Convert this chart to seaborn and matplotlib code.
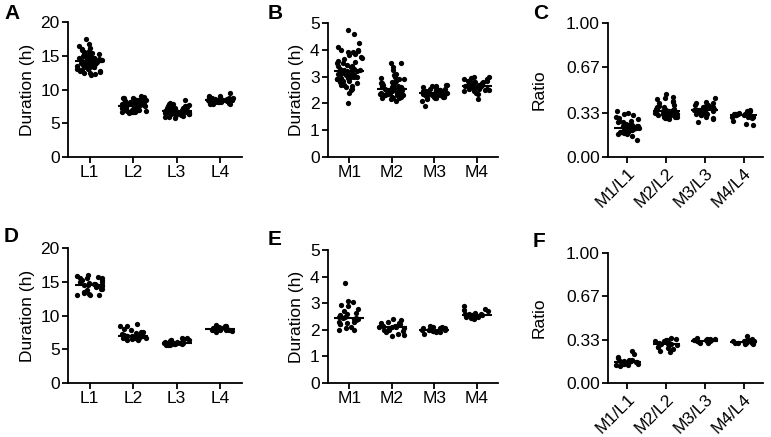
import numpy as np
import pandas as pd
import seaborn as sns
import matplotlib.pyplot as plt

sns.set_style('ticks')
plt.rcParams['font.family'] = ['Liberation Sans', 'DejaVu Sans']
plt.rcParams.update({'text.color': 'k', 'axes.labelcolor': 'k', 'xtick.color': 'k',
                     'ytick.color': 'k', 'axes.edgecolor': 'k'})

# ---- data (hours / ratios) ----
L_LABELS = ['L1', 'L2', 'L3', 'L4']
M_LABELS = ['M1', 'M2', 'M3', 'M4']
R_LABELS = ['M1/L1', 'M2/L2', 'M3/L3', 'M4/L4']

# top row
A_L1 = [12.2, 12.3, 12.4, 12.5, 12.6, 12.7, 12.8, 12.9, 13.0, 13.0, 13.1, 13.2, 13.3, 13.3,
        13.4, 13.5, 13.5, 13.6, 13.7, 13.7, 13.8, 13.9, 13.9, 14.0, 14.0, 14.1, 14.1, 14.2,
        14.2, 14.3, 14.3, 14.4, 14.4, 14.5, 14.5, 14.6, 14.7, 14.7, 14.8, 14.9, 14.9, 15.0,
        15.1, 15.2, 15.2, 15.3, 15.4, 15.5, 15.6, 15.7, 15.9, 16.0, 16.2, 16.5, 16.8, 17.5,
        13.8, 14.0, 14.2, 14.4, 13.6, 14.6]
A_L2 = [6.5, 6.6, 6.6, 6.7, 6.7, 6.8, 6.8, 6.9, 6.9, 7.0, 7.0, 7.1, 7.1, 7.2, 7.2, 7.3, 7.3,
        7.4, 7.4, 7.4, 7.5, 7.5, 7.5, 7.6, 7.6, 7.7, 7.7, 7.8, 7.8, 7.9, 7.9, 8.0, 8.0, 8.1,
        8.1, 8.2, 8.2, 8.3, 8.3, 8.4, 8.5, 8.5, 8.6, 8.6, 8.7, 8.8, 8.9, 9.0,
        6.6, 6.9, 7.2, 7.5, 7.8, 8.1, 8.4, 8.7]
A_L3 = [5.8, 5.9, 6.0, 6.1, 6.2, 6.2, 6.3, 6.3, 6.4, 6.4, 6.5, 6.5, 6.5, 6.6, 6.6, 6.6, 6.7,
        6.7, 6.7, 6.8, 6.8, 6.8, 6.9, 6.9, 6.9, 7.0, 7.0, 7.0, 7.1, 7.1, 7.2, 7.2, 7.3, 7.3,
        7.4, 7.5, 7.5, 7.6, 7.7, 7.8, 7.9, 8.0, 8.4, 6.4, 6.6, 6.8, 7.0, 7.2]
A_L4 = [7.8, 7.9, 7.9, 8.0, 8.0, 8.1, 8.1, 8.2, 8.2, 8.2, 8.3, 8.3, 8.3, 8.3, 8.4, 8.4, 8.4,
        8.4, 8.5, 8.5, 8.5, 8.5, 8.6, 8.6, 8.6, 8.7, 8.7, 8.8, 8.8, 8.9, 9.0, 9.1, 9.5,
        8.2, 8.3, 8.4, 8.5, 8.6, 8.7]

B_M1 = [2.0, 2.4, 2.5, 2.55, 2.6, 2.65, 2.7, 2.7, 2.75, 2.8, 2.8, 2.85, 2.85, 2.9, 2.9, 2.95,
        2.95, 3.0, 3.0, 3.0, 3.05, 3.05, 3.1, 3.1, 3.1, 3.15, 3.15, 3.15, 3.2, 3.2, 3.2, 3.25,
        3.25, 3.3, 3.3, 3.35, 3.4, 3.4, 3.45, 3.5, 3.5, 3.55, 3.6, 3.65, 3.7, 3.75, 3.8, 3.85,
        3.9, 3.9, 3.95, 4.0, 4.0, 4.1, 4.25, 4.6, 4.75]
B_M2 = [2.1, 2.15, 2.2, 2.2, 2.25, 2.25, 2.3, 2.3, 2.3, 2.35, 2.35, 2.35, 2.4, 2.4, 2.4, 2.45,
        2.45, 2.45, 2.5, 2.5, 2.5, 2.5, 2.55, 2.55, 2.55, 2.6, 2.6, 2.6, 2.65, 2.65, 2.7, 2.7,
        2.75, 2.75, 2.8, 2.8, 2.85, 2.9, 2.9, 2.95, 3.0, 3.05, 3.1, 3.25, 3.35, 3.5, 3.5,
        2.2, 2.3, 2.4, 2.5, 2.6]
B_M3 = [1.9, 2.1, 2.15, 2.2, 2.2, 2.2, 2.25, 2.25, 2.25, 2.3, 2.3, 2.3, 2.3, 2.35, 2.35, 2.35,
        2.35, 2.4, 2.4, 2.4, 2.4, 2.45, 2.45, 2.45, 2.5, 2.5, 2.5, 2.55, 2.55, 2.6, 2.6, 2.65,
        2.65, 2.7, 2.7, 2.3, 2.35, 2.4, 2.45, 2.5]
B_M4 = [2.15, 2.35, 2.4, 2.45, 2.45, 2.5, 2.5, 2.55, 2.55, 2.55, 2.6, 2.6, 2.6, 2.6, 2.65,
        2.65, 2.65, 2.65, 2.7, 2.7, 2.7, 2.75, 2.75, 2.75, 2.8, 2.8, 2.85, 2.85, 2.9, 2.9,
        2.95, 3.0, 3.0, 2.6, 2.7, 2.8]

C_R1 = [0.13, 0.16, 0.17, 0.17, 0.18, 0.18, 0.19, 0.19, 0.19, 0.20, 0.20, 0.20, 0.21, 0.21,
        0.21, 0.21, 0.22, 0.22, 0.22, 0.22, 0.23, 0.23, 0.23, 0.24, 0.24, 0.24, 0.25, 0.25,
        0.26, 0.26, 0.27, 0.27, 0.28, 0.29, 0.30, 0.31, 0.32, 0.33, 0.34,
        0.19, 0.20, 0.21, 0.22, 0.23, 0.24]
C_R2 = [0.28, 0.29, 0.29, 0.30, 0.30, 0.31, 0.31, 0.31, 0.32, 0.32, 0.32, 0.33, 0.33, 0.33,
        0.33, 0.34, 0.34, 0.34, 0.35, 0.35, 0.35, 0.36, 0.36, 0.37, 0.37, 0.38, 0.39, 0.40,
        0.41, 0.42, 0.43, 0.44, 0.45, 0.47, 0.30, 0.32, 0.34]
C_R3 = [0.26, 0.28, 0.29, 0.30, 0.31, 0.31, 0.32, 0.32, 0.33, 0.33, 0.34, 0.34, 0.34, 0.35,
        0.35, 0.35, 0.35, 0.36, 0.36, 0.36, 0.37, 0.37, 0.37, 0.38, 0.38, 0.39, 0.39, 0.40,
        0.40, 0.41, 0.44, 0.33, 0.35, 0.37]
C_R4 = [0.24, 0.25, 0.27, 0.29, 0.30, 0.30, 0.30, 0.31, 0.31, 0.31, 0.31, 0.32, 0.32, 0.32,
        0.32, 0.33, 0.33, 0.33, 0.34, 0.34, 0.35, 0.31, 0.32]

# bottom row
D_L1 = [13.0, 13.1, 13.1, 13.2, 13.3, 13.5, 13.8, 14.0, 14.0, 14.2, 14.3, 14.4, 14.5, 14.5,
        14.5, 14.6, 14.7, 14.8, 15.0, 15.0, 15.2, 15.3, 15.5, 15.5, 15.6, 15.7, 15.8, 16.0]
D_L2 = [6.3, 6.4, 6.5, 6.5, 6.6, 6.6, 6.7, 6.7, 6.8, 6.8, 6.9, 6.9, 6.9, 7.0, 7.0, 7.1, 7.1,
        7.2, 7.3, 7.4, 7.5, 7.6, 7.8, 8.0, 8.4, 8.5, 8.8]
D_L3 = [5.6, 5.7, 5.7, 5.8, 5.8, 5.8, 5.9, 5.9, 5.9, 6.0, 6.0, 6.0, 6.0, 6.1, 6.1, 6.1, 6.2,
        6.2, 6.3, 6.3, 6.4, 6.5, 6.6, 6.7]
D_L4 = [7.6, 7.7, 7.8, 7.8, 7.9, 7.9, 7.9, 8.0, 8.0, 8.0, 8.0, 8.1, 8.1, 8.1, 8.2, 8.2, 8.3,
        8.4, 8.5, 8.6]

E_M1 = [2.0, 2.0, 2.05, 2.1, 2.2, 2.2, 2.25, 2.3, 2.3, 2.35, 2.4, 2.4, 2.45, 2.45, 2.5, 2.5,
        2.55, 2.6, 2.65, 2.7, 2.8, 2.9, 2.95, 3.05, 3.1, 3.75]
E_M2 = [1.75, 1.8, 1.85, 1.9, 1.95, 2.0, 2.0, 2.05, 2.05, 2.1, 2.1, 2.1, 2.15, 2.15, 2.2, 2.2,
        2.25, 2.25, 2.3, 2.35, 2.4]
E_M3 = [1.85, 1.9, 1.9, 1.95, 1.95, 1.95, 2.0, 2.0, 2.0, 2.0, 2.05, 2.05, 2.05, 2.1, 2.1, 2.15]
E_M4 = [2.4, 2.45, 2.45, 2.5, 2.5, 2.5, 2.55, 2.55, 2.55, 2.6, 2.6, 2.6, 2.65, 2.7, 2.75, 2.8, 2.9]

F_R1 = [0.13, 0.14, 0.14, 0.15, 0.15, 0.15, 0.16, 0.16, 0.16, 0.165, 0.17, 0.17, 0.17, 0.18,
        0.18, 0.19, 0.20, 0.22, 0.25]
F_R2 = [0.24, 0.25, 0.26, 0.27, 0.28, 0.28, 0.29, 0.29, 0.30, 0.30, 0.30, 0.31, 0.31, 0.32,
        0.32, 0.33, 0.33, 0.34, 0.35]
F_R3 = [0.31, 0.31, 0.315, 0.32, 0.32, 0.32, 0.325, 0.325, 0.33, 0.33, 0.33, 0.335, 0.34,
        0.34, 0.35]
F_R4 = [0.30, 0.30, 0.305, 0.31, 0.31, 0.31, 0.315, 0.315, 0.32, 0.32, 0.325, 0.33, 0.33,
        0.34, 0.36]

FS = 12.5


def to_long(groups, labels):
    rows = []
    for lbl, vals in zip(labels, groups):
        for v in vals:
            rows.append((lbl, v))
    return pd.DataFrame(rows, columns=['group', 'value'])


def scatter_panel(ax, groups, labels, ylim, yticks, yticklabels, ylabel, rotate=False):
    df = to_long(groups, labels)
    sns.stripplot(data=df, x='group', y='value', order=labels, color='k', size=3.8,
                  jitter=0.3, linewidth=0, ax=ax)
    # median line
    sns.boxplot(data=df, x='group', y='value', order=labels, width=0.7, whis=0,
                showbox=False, showcaps=False, showfliers=False,
                whiskerprops={'visible': False},
                medianprops={'color': 'k', 'lw': 1.5}, ax=ax)
    ax.set_xlim(-0.5, 3.5)
    ax.set_ylim(*ylim)
    ax.set_yticks(yticks)
    ax.set_yticklabels(yticklabels)
    ax.set_xlabel('')
    ax.set_ylabel(ylabel, fontsize=FS, labelpad=4)
    ax.tick_params(labelsize=FS, width=1.3, length=4, pad=2)
    for s in ['left', 'bottom']:
        ax.spines[s].set_linewidth(1.3)
    sns.despine(ax=ax)
    if rotate:
        plt.setp(ax.get_xticklabels(), rotation=45, ha='right', rotation_mode='anchor')


W, H = 771, 437
np.random.seed(3)
fig = plt.figure(figsize=(W / 100, H / 100), dpi=100)


def make_ax(l, r, t, b):
    return fig.add_axes([l / W, 1 - b / H, (r - l) / W, (b - t) / H])


axA = make_ax(68, 242, 22, 157)
axB = make_ax(328, 498, 23, 157)
axC = make_ax(608, 763, 23, 157)
axD = make_ax(68, 242, 248, 383)
axE = make_ax(328, 498, 250, 383)
axF = make_ax(608, 763, 253, 383)

dur_ticks = [0, 5, 10, 15, 20]
m_ticks = [0, 1, 2, 3, 4, 5]
r_ticks = [0, 0.33, 0.67, 1.0]
r_lbls = ['0.00', '0.33', '0.67', '1.00']

scatter_panel(axA, [A_L1, A_L2, A_L3, A_L4], L_LABELS, (0, 20), dur_ticks, dur_ticks, 'Duration (h)')
scatter_panel(axB, [B_M1, B_M2, B_M3, B_M4], M_LABELS, (0, 5), m_ticks, m_ticks, 'Duration (h)')
scatter_panel(axC, [C_R1, C_R2, C_R3, C_R4], R_LABELS, (0, 1), r_ticks, r_lbls, 'Ratio', rotate=True)
scatter_panel(axD, [D_L1, D_L2, D_L3, D_L4], L_LABELS, (0, 20), dur_ticks, dur_ticks, 'Duration (h)')
scatter_panel(axE, [E_M1, E_M2, E_M3, E_M4], M_LABELS, (0, 5), m_ticks, m_ticks, 'Duration (h)')
scatter_panel(axF, [F_R1, F_R2, F_R3, F_R4], R_LABELS, (0, 1), r_ticks, r_lbls, 'Ratio', rotate=True)

axC.yaxis.labelpad = 14
axF.yaxis.labelpad = 14

for letter, x, y in [('A', 4, 4), ('B', 268, 4), ('C', 533, 4),
                     ('D', 4, 227), ('E', 268, 230), ('F', 533, 232)]:
    fig.text(x / W, 1 - y / H, letter, fontsize=15, fontweight='bold', va='top', ha='left')

fig.savefig('out.png', dpi=100)
